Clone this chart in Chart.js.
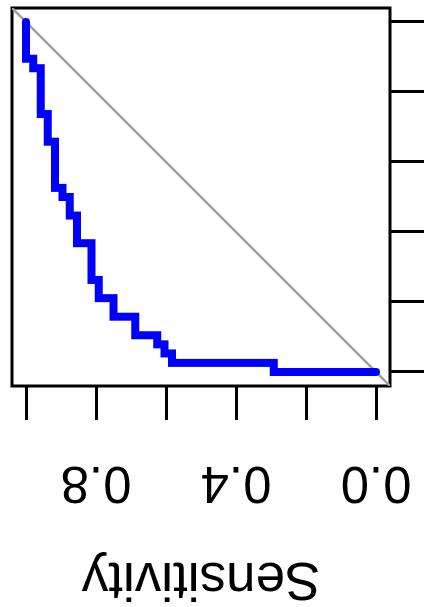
<!DOCTYPE html>
<html><head><meta charset="utf-8">
<script src="https://cdn.jsdelivr.net/npm/chart.js@4"></script>
<style>
html,body{margin:0;padding:0;background:#fff;overflow:hidden;width:425px;height:607px;}
#wrap{position:absolute;left:0;top:0;width:607px;height:425px;transform-origin:0 0;transform:translate(0,607px) rotate(-90deg);}
</style></head><body>
<div id="wrap"><canvas id="c" width="607" height="425"></canvas></div>
<script>
// ROC curve corners
const specificity = [0, 0.105, 0.105, 0.132, 0.132, 0.263, 0.263, 0.342, 0.342, 0.474, 0.474, 0.5, 0.5, 0.553, 0.553, 0.632, 0.632, 0.737, 0.737, 0.789, 0.789, 0.842, 0.842, 0.895, 0.895, 0.921, 0.921, 0.947, 0.947, 0.974, 0.974, 1, 1];
const sensitivity = [1, 1, 0.979, 0.979, 0.958, 0.958, 0.938, 0.938, 0.917, 0.917, 0.896, 0.896, 0.875, 0.875, 0.854, 0.854, 0.813, 0.813, 0.792, 0.792, 0.75, 0.75, 0.688, 0.688, 0.625, 0.625, 0.604, 0.604, 0.583, 0.583, 0.292, 0.292, 0];
// chance line (abline across the whole plot region)
const diagSpecificity = [-0.04, 1.04];
const diagSensitivity = [1.04, -0.04];
// axes
const sensTicks = [0, 0.2, 0.4, 0.6, 0.8, 1.0];
const sensTickLabels = ['0.0', '', '0.4', '', '0.8', ''];
const specTicks = [0, 0.2, 0.4, 0.6, 0.8, 1.0];
const axisRange = [-0.04, 1.04];
const yTitle = 'Sensitivity';

const FONT = '"Liberation Sans", Arial, Helvetica, sans-serif';

const boxPlugin = {
  id: 'box',
  beforeDatasetsDraw(chart) {
    const {ctx, chartArea: a} = chart;
    ctx.save();
    ctx.strokeStyle = '#000';
    ctx.lineWidth = 3;
    ctx.strokeRect(a.left, a.top, a.right - a.left, a.bottom - a.top);
    ctx.restore();
  }
};

new Chart(document.getElementById('c'), {
  type: 'scatter',
  data: {
    datasets: [
      {
        label: 'ROC',
        data: specificity.map((s, i) => ({x: s, y: sensitivity[i]})),
        showLine: true,
        borderColor: '#0000ff',
        borderWidth: 8,
        borderCapStyle: 'round',
        borderJoinStyle: 'miter',
        pointRadius: 0,
        fill: false,
        order: 0
      },
      {
        label: 'chance',
        data: diagSpecificity.map((s, i) => ({x: s, y: diagSensitivity[i]})),
        showLine: true,
        borderColor: '#a0a0a0',
        borderWidth: 2.5,
        pointRadius: 0,
        fill: false,
        order: 1
      }
    ]
  },
  options: {
    responsive: false,
    animation: false,
    devicePixelRatio: 1,
    layout: {padding: {top: 12, right: 8, left: 0, bottom: 0}},
    plugins: {legend: {display: false}, tooltip: {enabled: false}},
    scales: {
      x: {
        type: 'linear',
        position: 'bottom',
        reverse: true,
        min: axisRange[0],
        max: axisRange[1],
        afterBuildTicks: s => { s.ticks = specTicks.map(v => ({value: v})); },
        afterFit: s => { s.height = 35; s.paddingLeft = 0; s.paddingRight = 0; },
        ticks: {display: false},
        grid: {display: true, drawOnChartArea: false, drawTicks: true, tickLength: 34, lineWidth: 3, color: '#000'},
        border: {display: false}
      },
      y: {
        type: 'linear',
        position: 'left',
        min: axisRange[0],
        max: axisRange[1],
        afterBuildTicks: s => { s.ticks = sensTicks.map(v => ({value: v})); },
        afterFit: s => { s.width = 221; s.paddingTop = 0; s.paddingBottom = 0; },
        ticks: {
          autoSkip: false,
          minRotation: 90,
          maxRotation: 90,
          crossAlign: 'center',
          padding: 26,
          color: '#000',
          font: {family: FONT, size: 51},
          callback: (v) => { const i = sensTicks.indexOf(v); return i >= 0 ? sensTickLabels[i] : ''; }
        },
        title: {
          display: true,
          text: yTitle,
          color: '#000',
          font: {family: FONT, size: 53, lineHeight: 1},
          padding: {top: 3, bottom: 0}
        },
        grid: {display: true, drawOnChartArea: false, drawTicks: true, tickLength: 34, lineWidth: 3, color: '#000'},
        border: {display: false}
      }
    }
  },
  plugins: [boxPlugin]
});
</script>
</body></html>
